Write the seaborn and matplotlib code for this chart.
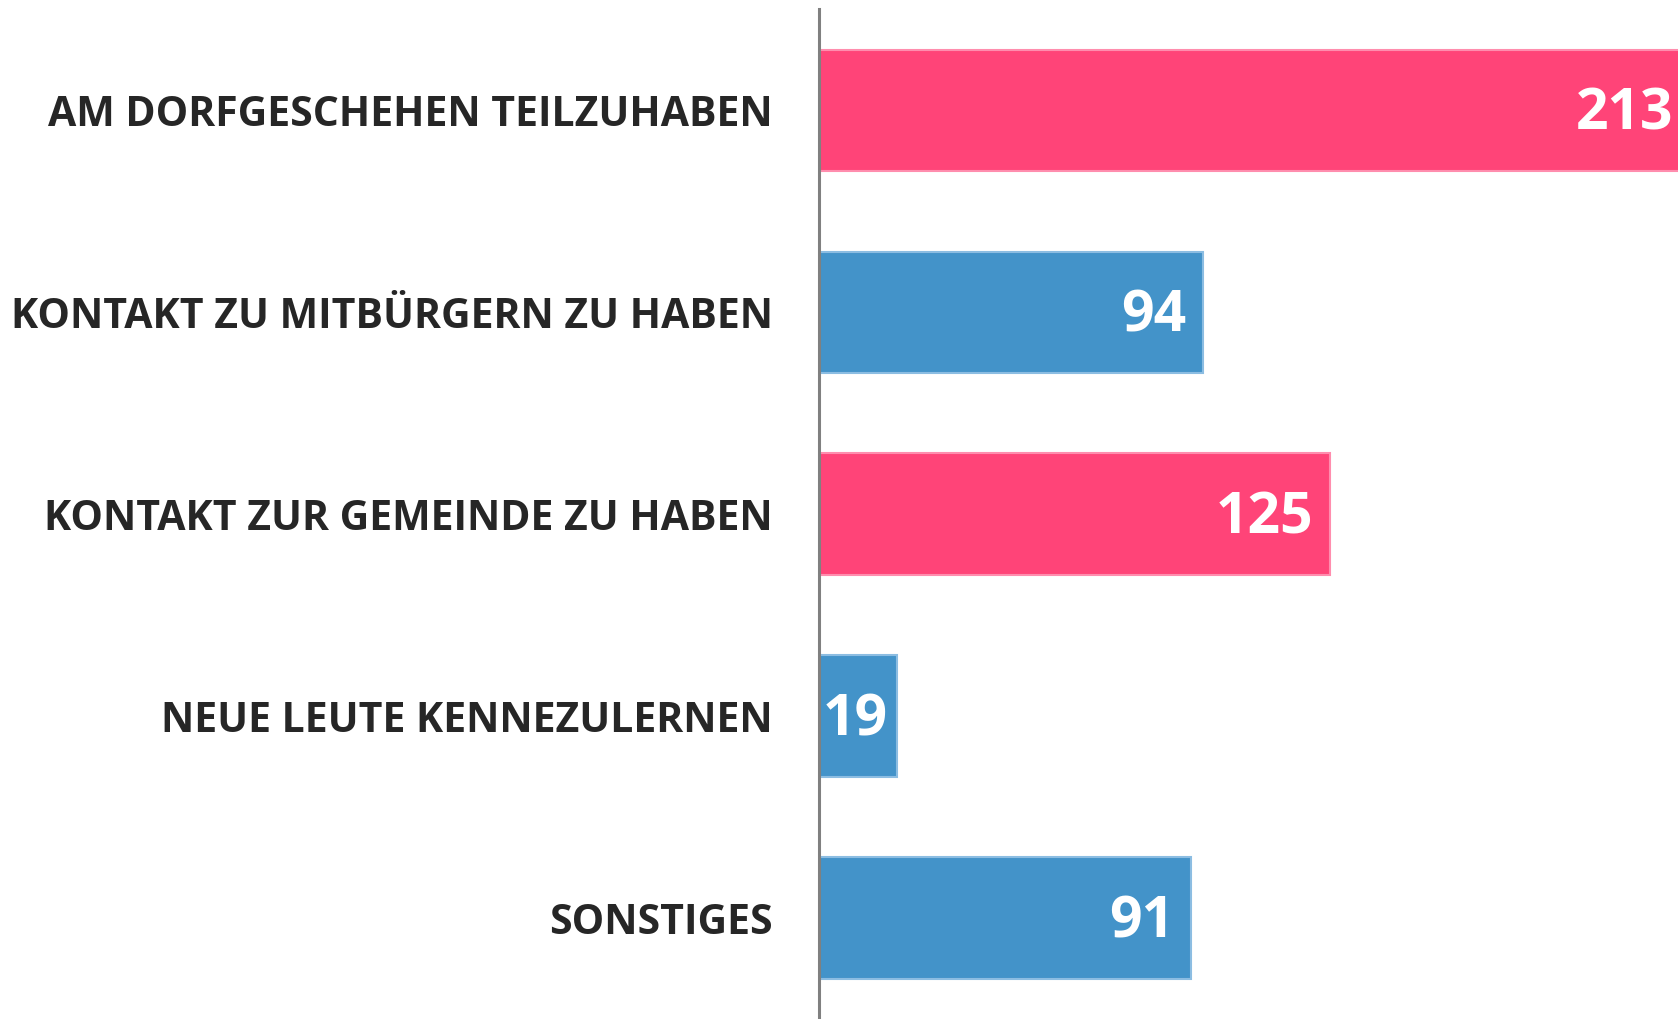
import seaborn as sns
import matplotlib.pyplot as plt

# Data
categories = [
    "AM DORFGESCHEHEN TEILZUHABEN",
    "KONTAKT ZU MITBÜRGERN ZU HABEN",
    "KONTAKT ZUR GEMEINDE ZU HABEN",
    "NEUE LEUTE KENNEZULERNEN",
    "SONSTIGES",
]
values = [213, 94, 125, 19, 91]
colors = ["#FF4478", "#4393C9", "#FF4478", "#4393C9", "#4393C9"]
edges = ["#FF8DAE", "#8CBDE2", "#FF8DAE", "#8CBDE2", "#8CBDE2"]

sns.set_style("white")
plt.rcParams["font.family"] = ["Open Sans", "DejaVu Sans"]

fig = plt.figure(figsize=(16.78, 10.19), dpi=100)
ax = fig.add_axes([0.488, 0.0, 0.512, 0.991])

sns.barplot(x=values, y=categories, hue=categories, palette=colors,
            saturation=1, legend=False, orient="h", width=0.6, ax=ax)

for patch, ec in zip(ax.patches, edges):
    patch.set_edgecolor(ec)
    patch.set_linewidth(1.5)

# value labels inside the bar ends
for i, v in enumerate(values):
    off = -9 if v < 30 else -17
    ax.annotate(str(v), xy=(v, i), xytext=(off, -4), textcoords="offset pixels",
                ha="right", va="center", color="white", fontsize=41,
                fontweight="bold", annotation_clip=False)

# longest bar runs off the right edge in the original
ax.set_xlim(0, 210)
ax.set_ylim(4.5, -0.5)
ax.set_xlabel("")
ax.set_ylabel("")
ax.set_xticks([])

for s in ["top", "right", "bottom"]:
    ax.spines[s].set_visible(False)
ax.spines["left"].set_color("#808080")
ax.spines["left"].set_linewidth(2.2)

ax.tick_params(axis="y", length=0, pad=33, labelsize=29.5, labelcolor="#262626")
for lbl in ax.get_yticklabels():
    lbl.set_fontweight("bold")

fig.savefig("out.png", dpi=100)
